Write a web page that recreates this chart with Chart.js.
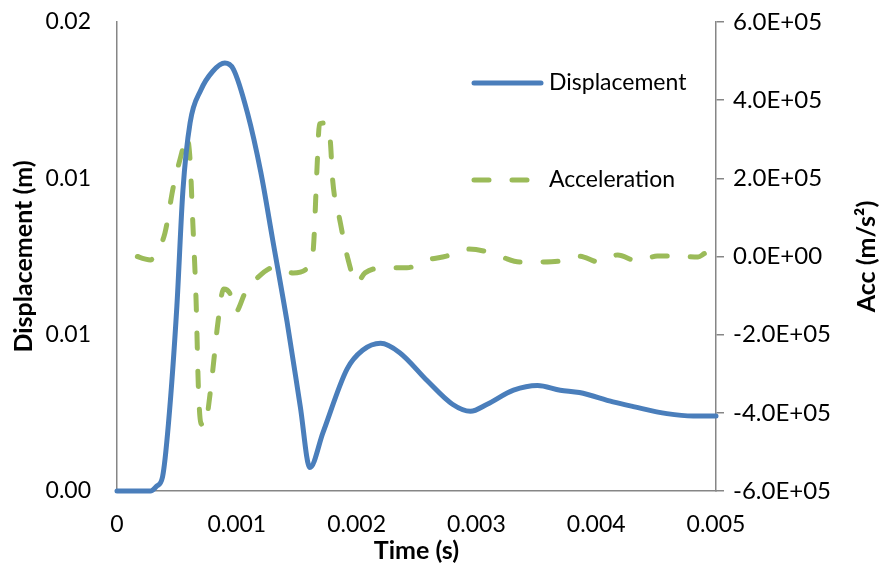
<!DOCTYPE html>
<html>
<head>
<meta charset="utf-8">
<title>Displacement and Acceleration vs Time</title>
<script src="https://cdn.jsdelivr.net/npm/chart.js@4/dist/chart.umd.min.js"></script>
<style>
  html, body { margin: 0; padding: 0; background: #ffffff; }
  #wrap { width: 894px; height: 567px; position: relative; }
</style>
</head>
<body>
<div id="wrap"><canvas id="c" width="894" height="567"></canvas></div>
<script>
// Time samples (s) and displacement (m)
const dispTime = [0, 0.0001, 0.0002, 0.00028, 0.00033, 0.00038, 0.00043, 0.0005, 0.00055, 0.00061,
  0.0007, 0.0008, 0.0009, 0.00097, 0.00109, 0.0012, 0.0013, 0.00142, 0.00153, 0.00161,
  0.00172, 0.00192, 0.00205, 0.0022, 0.00236, 0.00259, 0.0028, 0.00295, 0.00309, 0.00331,
  0.00351, 0.0037, 0.00386, 0.00414, 0.00431, 0.00459, 0.00481, 0.005];
const displacement = [0, 0, 0, 0, 0.0002, 0.0006, 0.0029, 0.0079, 0.0128, 0.0157,
  0.0171, 0.0179, 0.01825, 0.018, 0.0161, 0.0136, 0.0107, 0.0072, 0.0036, 0.001,
  0.0025, 0.0052, 0.006, 0.0063, 0.0059, 0.0047, 0.0037, 0.0034, 0.0037, 0.0043,
  0.0045, 0.0043, 0.0042, 0.0038, 0.0036, 0.0033, 0.0032, 0.0032];

// Time samples (s) and acceleration (m/s^2)
const accTime = [0.00017, 0.00023, 0.00028, 0.00032, 0.0004, 0.00047, 0.00054, 0.00058, 0.00061, 0.00063,
  0.00066, 0.00068, 0.0007, 0.00074, 0.00076, 0.0008, 0.00084, 0.00089, 0.00094, 0.00099,
  0.00107, 0.00117, 0.00132, 0.00147, 0.00161, 0.00164, 0.00167, 0.00169, 0.00174, 0.00178,
  0.0018, 0.00186, 0.00193, 0.002, 0.00207, 0.00225, 0.00242, 0.00259, 0.00275, 0.00292,
  0.00306, 0.00321, 0.00336, 0.00353, 0.0037, 0.00386, 0.00402, 0.00418, 0.00434, 0.00451,
  0.00467, 0.00485, 0.00492, 0.005];
const acceleration = [0, -6000, -9000, 6000, 60000, 178000, 265000, 308000, 247000, 106000,
  -111000, -341000, -426000, -434000, -393000, -290000, -175000, -83000, -93000, -142000,
  -93000, -55000, -27000, -42000, -22000, 24000, 229000, 339000, 342000, 298000,
  196000, 93000, -9000, -68000, -42000, -29000, -29000, -9000, 1000, 19000,
  14000, -1000, -14000, -14000, -11500, 1000, -14000, 4000, -11500, 1000,
  1000, -1000, 9000, -4000];

// Axis ticks and their labels
const timeTicks = [0, 0.001, 0.002, 0.003, 0.004, 0.005];
const timeTickLabels = ['0', '0.001', '0.002', '0.003', '0.004', '0.005'];
const dispTicks = [0, 0.02 / 3, 0.04 / 3, 0.02];
const dispTickLabels = ['0.00', '0.01', '0.01', '0.02'];
const accTicks = [-600000, -400000, -200000, 0, 200000, 400000, 600000];
const accTickLabels = ['-6.0E+05', '-4.0E+05', '-2.0E+05', '0.0E+00', '2.0E+05', '4.0E+05', '6.0E+05'];

const seriesNames = ['Displacement', 'Acceleration'];

const FONT = 'Lato, "Open Sans", sans-serif';
const AXIS_GREY = '#868686';
const BLUE = '#4a7ebb';
const GREEN = '#9bbb59';

const toPoints = (xs, ys) => xs.map((x, i) => ({ x: x, y: ys[i] }));

// Legend inside the plot area plus the right-hand axis title (reads bottom to top)
const extrasPlugin = {
  id: 'extras',
  afterDraw(chart) {
    const ctx = chart.ctx;
    const rows = [{ y: 83 }, { y: 180 }];
    ctx.save();
    chart.data.datasets.forEach((ds, i) => {
      const y = rows[i].y;
      ctx.beginPath();
      ctx.strokeStyle = ds.borderColor;
      ctx.lineWidth = ds.borderWidth;
      ctx.lineCap = 'round';
      ctx.setLineDash(ds.borderDash || []);
      ctx.moveTo(474, y);
      ctx.lineTo(541, y);
      ctx.stroke();
      ctx.setLineDash([]);
      ctx.fillStyle = '#000';
      ctx.font = '23px ' + FONT;
      ctx.textAlign = 'left';
      ctx.textBaseline = 'middle';
      ctx.fillText(ds.label, 549, y);
    });
    const r = chart.scales.y2;
    ctx.translate(867, (r.top + r.bottom) / 2);
    ctx.rotate(-Math.PI / 2);
    ctx.font = 'bold 25px ' + FONT;
    ctx.textAlign = 'center';
    ctx.textBaseline = 'middle';
    ctx.fillStyle = '#000';
    ctx.fillText('Acc (m/s\u00B2)', 0, 0);
    ctx.restore();
  }
};

new Chart(document.getElementById('c'), {
  type: 'line',
  data: {
    datasets: [
      {
        label: seriesNames[0],
        data: toPoints(dispTime, displacement),
        yAxisID: 'y',
        borderColor: BLUE,
        borderWidth: 5,
        pointRadius: 0,
        cubicInterpolationMode: 'monotone',
        borderCapStyle: 'round',
        borderJoinStyle: 'round',
        fill: false,
        clip: false
      },
      {
        label: seriesNames[1],
        data: toPoints(accTime, acceleration),
        yAxisID: 'y2',
        borderColor: GREEN,
        borderWidth: 5,
        borderDash: [15, 23],
        borderCapStyle: 'round',
        borderJoinStyle: 'round',
        pointRadius: 0,
        cubicInterpolationMode: 'monotone',
        fill: false,
        clip: false
      }
    ]
  },
  options: {
    responsive: false,
    animation: false,
    events: [],
    layout: { padding: { top: 22, left: 0, right: 0, bottom: 0 } },
    plugins: {
      legend: { display: false },
      tooltip: { enabled: false },
      title: { display: false }
    },
    scales: {
      x: {
        type: 'linear',
        position: 'bottom',
        min: 0,
        max: 0.005,
        afterBuildTicks(s) { s.ticks = timeTicks.map(v => ({ value: v })); },
        afterFit(s) { s.height = 76; },
        grid: { display: true, drawOnChartArea: false, drawTicks: false },
        border: { display: true, color: AXIS_GREY, width: 1.5 },
        ticks: {
          autoSkip: false,
          maxRotation: 0,
          padding: 20,
          color: '#000',
          font: { family: FONT, size: 23 },
          callback: (v, i) => timeTickLabels[i]
        },
        title: {
          display: true,
          text: 'Time (s)',
          color: '#000',
          font: { family: FONT, size: 25, weight: 'bold' },
          padding: { top: 0, bottom: 1 }
        }
      },
      y: {
        type: 'linear',
        position: 'left',
        min: 0,
        max: 0.02,
        afterBuildTicks(s) { s.ticks = dispTicks.map(v => ({ value: v })); },
        afterFit(s) { s.width = 117; },
        // invisible tick marks keep the labels clear of the axis line
        grid: { display: true, drawOnChartArea: false, drawTicks: true, tickLength: 22, color: 'rgba(0,0,0,0)' },
        border: { display: true, color: AXIS_GREY, width: 1.5 },
        ticks: {
          autoSkip: false,
          padding: 4,
          color: '#000',
          font: { family: FONT, size: 23, lineHeight: 1 },
          callback: (v, i) => dispTickLabels[i]
        },
        title: {
          display: true,
          text: 'Displacement (m)',
          color: '#000',
          font: { family: FONT, size: 25, weight: 'bold' },
          padding: { top: 9, bottom: 0 }
        }
      },
      y2: {
        type: 'linear',
        position: 'right',
        min: -600000,
        max: 600000,
        afterBuildTicks(s) { s.ticks = accTicks.map(v => ({ value: v })); },
        afterFit(s) { s.width = 178; },
        grid: { display: true, drawOnChartArea: false, drawTicks: true, tickLength: 8, color: AXIS_GREY, lineWidth: 1.5 },
        border: { display: true, color: AXIS_GREY, width: 1.5 },
        ticks: {
          autoSkip: false,
          padding: 9,
          color: '#000',
          font: { family: FONT, size: 24, lineHeight: 1 },
          callback: (v, i) => accTickLabels[i]
        },
        title: { display: false }
      }
    }
  },
  plugins: [extrasPlugin]
});
</script>
</body>
</html>
